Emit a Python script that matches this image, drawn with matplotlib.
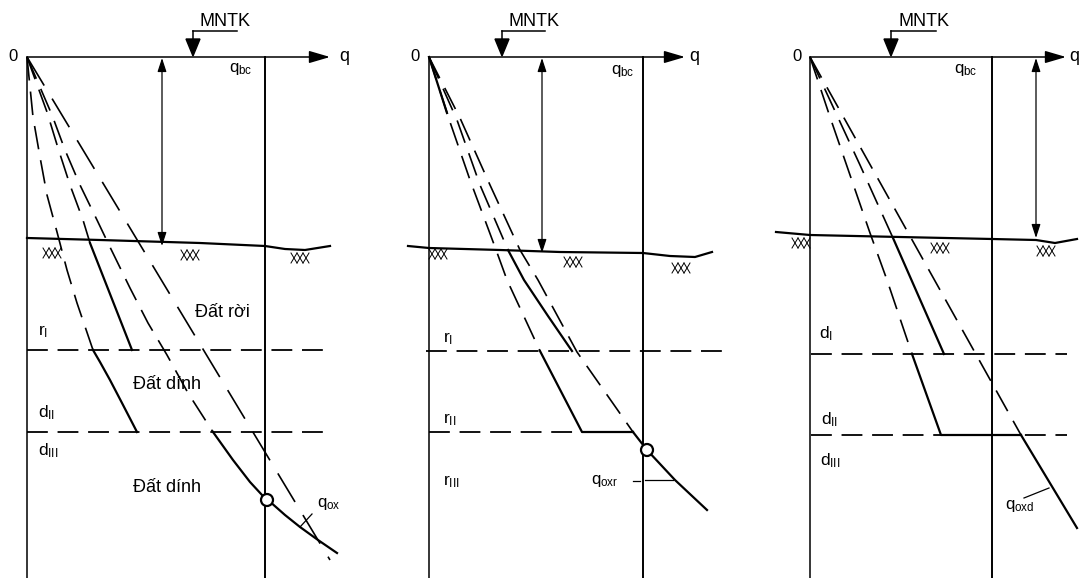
import matplotlib.pyplot as plt
from matplotlib.patches import Circle, Polygon

plt.rcParams['font.family'] = ['Liberation Sans', 'DejaVu Sans']
plt.rcParams['mathtext.fontset'] = 'custom'
plt.rcParams['mathtext.rm'] = 'Liberation Sans'
plt.rcParams['mathtext.it'] = 'Liberation Sans:italic'
plt.rcParams['lines.scale_dashes'] = False

# --- geometry (pixel coords, y pointing down) ---
origin_x = [27, 429, 810]
origin_y = 57
axis_end = [330, 685, 1066]
qbc_x = [265, 643, 992]
dim_x = [162, 542, 1036]
dim_bottom = [246, 253, 238]
mntk_x = [193, 502, 891]
mntk_tail = [237, 545, 936]

ground = [
    ([27, 100, 200, 265, 285, 305, 330], [238, 240, 243, 246, 249, 250, 246]),
    ([408, 429, 500, 560, 643, 670, 695, 712], [246, 248, 250, 252, 253, 256, 257, 252]),
    ([776, 810, 900, 992, 1036, 1055, 1077], [232, 235, 237, 239, 240, 243, 239]),
]
hatches = [(52, 248), (190, 250), (300, 253),
           (438, 249), (573, 257), (681, 263),
           (801, 238), (940, 243), (1046, 246)]

# layer boundaries: (y, x_start, x_end)
layers = [(350, 27, 330), (432, 27, 330),
          (351, 426, 722), (432, 429, 633),
          (354, 811, 1067), (435, 811, 1067)]

# fan of pressure lines from the origin
fan_dashed = [
    ([27, 33, 40, 47, 57, 67, 77, 93], [57, 117, 157, 195, 232, 270, 303, 350]),
    ([27, 47, 58, 70, 83, 90], [57, 112, 148, 185, 220, 243]),
    ([27, 52, 65, 80, 97, 108, 130, 148, 167, 188, 213],
     [57, 115, 150, 185, 220, 243, 288, 323, 355, 393, 432]),
    ([429, 450, 470, 495, 507, 540], [57, 122, 180, 247, 280, 351]),
    ([429, 457, 480, 508], [57, 120, 185, 250]),
    ([429, 460, 490, 520, 538, 577, 605, 633], [57, 118, 185, 250, 280, 352, 392, 432]),
    ([810, 830, 870, 887, 912], [57, 117, 233, 280, 354]),
    ([810, 822, 860, 893], [57, 83, 165, 238]),
    ([810, 1021], [57, 435]),
]
fan_long_dash = [([27, 330], [57, 560])]
fan_solid = [
    ([93, 100, 110, 122, 137], [350, 362, 380, 403, 432]),
    ([90, 132], [243, 350]),
    ([213, 233, 250, 262, 268, 285, 300, 318, 337], [432, 460, 482, 495, 500, 515, 527, 540, 553]),
    ([540, 582, 633], [351, 432, 432]),
    ([508, 524, 548, 572], [250, 280, 316, 351]),
    ([633, 647, 675, 707], [432, 450, 480, 510]),
    ([429, 447], [57, 113]),
    ([912, 941, 1021], [354, 435, 435]),
    ([893, 944], [238, 354]),
    ([1021, 1077], [435, 528]),
]
circles = [(267, 500), (647, 450)]
leaders = [([300, 312], [527, 514]), ([633, 640], [481, 481]), ([645, 673], [480, 480]),
           ([1024, 1049], [498, 488])]

# text: (x, y, text, size)
labels = [
    (8, 61, '0', 12), (410, 61, '0', 12), (792, 61, '0', 12),
    (339, 61, 'q', 13), (689, 61, 'q', 13), (1069, 61, 'q', 13),
    (229, 72, r'$\mathregular{q_{bc}}$', 12), (611, 74, r'$\mathregular{q_{bc}}$', 12),
    (954, 73, r'$\mathregular{q_{bc}}$', 12),
    (195, 317, 'Đất rời', 13), (133, 389, 'Đất dính', 13), (133, 492, 'Đất dính', 13),
    (38, 335, r'$\mathregular{r_{I}}$', 12.5), (38, 417, r'$\mathregular{d_{II}}$', 12.5),
    (38, 455, r'$\mathregular{d_{III}}$', 12.5), (317, 507, r'$\mathregular{q_{ox}}$', 12),
    (443, 342, r'$\mathregular{r_{I}}$', 12.5), (443, 423, r'$\mathregular{r_{II}}$', 12.5),
    (443, 485, r'$\mathregular{r_{III}}$', 12.5), (591, 484, r'$\mathregular{q_{oxr}}$', 12),
    (819, 338, r'$\mathregular{d_{I}}$', 12.5), (821, 424, r'$\mathregular{d_{II}}$', 12.5),
    (820, 465, r'$\mathregular{d_{III}}$', 12.5), (1005, 509, r'$\mathregular{q_{oxd}}$', 12),
]

fig = plt.figure(figsize=(10.79, 5.78), dpi=100)
ax = fig.add_axes([0, 0, 1, 1])
ax.set_xlim(0, 1079)
ax.set_ylim(578, 0)
ax.axis('off')

k = 'black'
for i in range(3):
    x0 = origin_x[i]
    # q axis with arrow
    ax.annotate('', xy=(axis_end[i], origin_y), xytext=(x0, origin_y),
                arrowprops=dict(arrowstyle='-|>,head_length=0.85,head_width=0.25',
                                color=k, lw=1.1, shrinkA=0, shrinkB=0, mutation_scale=15))
    ax.plot([x0, x0], [origin_y, 578], color=k, lw=1.1)
    ax.plot([qbc_x[i], qbc_x[i]], [origin_y, 578], color=k, lw=1.4)
    # depth dimension arrow
    ax.annotate('', xy=(dim_x[i], dim_bottom[i]), xytext=(dim_x[i], origin_y + 1),
                arrowprops=dict(arrowstyle='<|-|>,head_length=0.55,head_width=0.18',
                                color=k, lw=0.9, shrinkA=0, shrinkB=0, mutation_scale=15))
    # MNTK water level marker
    mx = mntk_x[i]
    ax.plot([mx, mntk_tail[i], ], [31, 31], color=k, lw=1.1)
    ax.plot([mx, mx], [31, 40], color=k, lw=1.1)
    ax.add_patch(Polygon([(mx - 7, 39), (mx + 7, 39), (mx, 56)], closed=True, color=k))
    ax.text((mx + mntk_tail[i]) / 2 + 10, 26, 'MNTK', fontsize=13, ha='center', va='baseline')

for xs, ys in ground:
    ax.plot(xs, ys, color=k, lw=1.6)

for cx, top in hatches:
    for j in range(3):
        x = cx - 9 + j * 6
        ax.plot([x, x + 6], [top, top + 10], color=k, lw=0.7)
        ax.plot([x + 6, x], [top, top + 10], color=k, lw=0.7)

for y, xa, xb in layers:
    ax.plot([xa, xb], [y, y], color=k, lw=1.3, dashes=(15, 7))

for xs, ys in fan_dashed:
    ax.plot(xs, ys, color=k, lw=1.2, dashes=(17, 8))
for xs, ys in fan_long_dash:
    ax.plot(xs, ys, color=k, lw=1.2, dashes=(24, 11))
for xs, ys in fan_solid:
    ax.plot(xs, ys, color=k, lw=1.6)
for xs, ys in leaders:
    ax.plot(xs, ys, color=k, lw=0.9)

for cx, cy in circles:
    ax.add_patch(Circle((cx, cy), 6, facecolor='white', edgecolor=k, lw=1.6, zorder=5))

for x, y, t, s in labels:
    ax.text(x, y, t, fontsize=s, ha='left', va='baseline')

fig.savefig('out.png', dpi=100)
